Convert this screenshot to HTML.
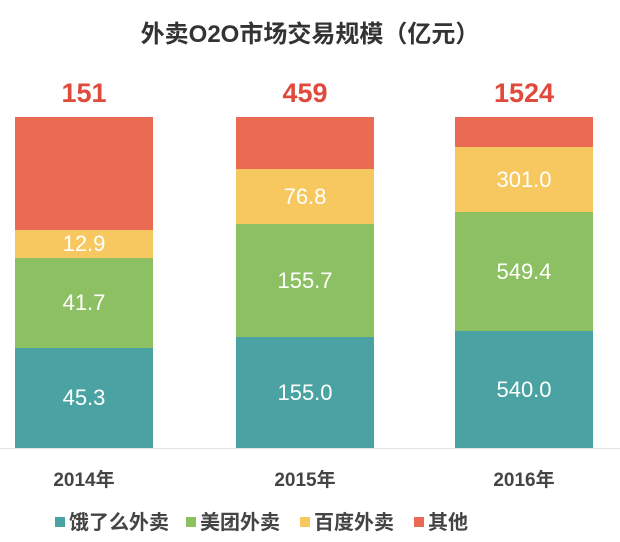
<!DOCTYPE html>
<html><head><meta charset="utf-8"><style>
body{margin:0;width:620px;height:542px;background:#fff;position:relative;overflow:hidden;font-family:"Liberation Sans","Noto Sans CJK SC",sans-serif}
.a{position:absolute}
.s{position:absolute;color:#fff;font-size:22px;text-align:center;display:flex;align-items:center;justify-content:center}
.t{position:absolute;color:#e04a3c;font-weight:bold;font-size:27px;text-align:center;width:138px;top:78px}
.y{position:absolute;color:#444;font-size:19px;top:465px;width:138px;text-align:center;font-weight:bold}
.lg{position:absolute;top:506px;font-size:20px;color:#444;font-weight:bold}
.sq{display:inline-block;width:10px;height:10px;margin-right:4px;vertical-align:2px}
</style></head><body>
<div class="a" style="top:14px;left:0;width:620px;text-align:center;font-size:24px;font-weight:bold;color:#333">外卖O2O市场交易规模（亿元）</div>
<div class="t" style="left:15px">151</div>
<div class="t" style="left:236px">459</div>
<div class="t" style="left:455px">1524</div>

<div class="s" style="left:15px;width:138px;top:117px;height:113px;background:#eb6a54"></div>
<div class="s" style="left:15px;width:138px;top:230px;height:28px;background:#f6c85f">12.9</div>
<div class="s" style="left:15px;width:138px;top:258px;height:90px;background:#8dc063">41.7</div>
<div class="s" style="left:15px;width:138px;top:348px;height:100px;background:#4aa3a2">45.3</div>

<div class="s" style="left:236px;width:138px;top:117px;height:52px;background:#eb6a54"></div>
<div class="s" style="left:236px;width:138px;top:169px;height:55px;background:#f6c85f">76.8</div>
<div class="s" style="left:236px;width:138px;top:224px;height:113px;background:#8dc063">155.7</div>
<div class="s" style="left:236px;width:138px;top:337px;height:111px;background:#4aa3a2">155.0</div>

<div class="s" style="left:455px;width:138px;top:117px;height:30px;background:#eb6a54"></div>
<div class="s" style="left:455px;width:138px;top:147px;height:65px;background:#f6c85f">301.0</div>
<div class="s" style="left:455px;width:138px;top:212px;height:119px;background:#8dc063">549.4</div>
<div class="s" style="left:455px;width:138px;top:331px;height:117px;background:#4aa3a2">540.0</div>

<div class="a" style="left:0;top:448px;width:620px;height:1px;background:#e2e2e2"></div>
<div class="y" style="left:15px">2014年</div>
<div class="y" style="left:236px">2015年</div>
<div class="y" style="left:455px">2016年</div>

<div class="lg" style="left:55px"><span class="sq" style="background:#4aa3a2"></span>饿了么外卖</div>
<div class="lg" style="left:186px"><span class="sq" style="background:#8dc063"></span>美团外卖</div>
<div class="lg" style="left:300px"><span class="sq" style="background:#f6c85f"></span>百度外卖</div>
<div class="lg" style="left:414px"><span class="sq" style="background:#eb6a54"></span>其他</div>
</body></html>
